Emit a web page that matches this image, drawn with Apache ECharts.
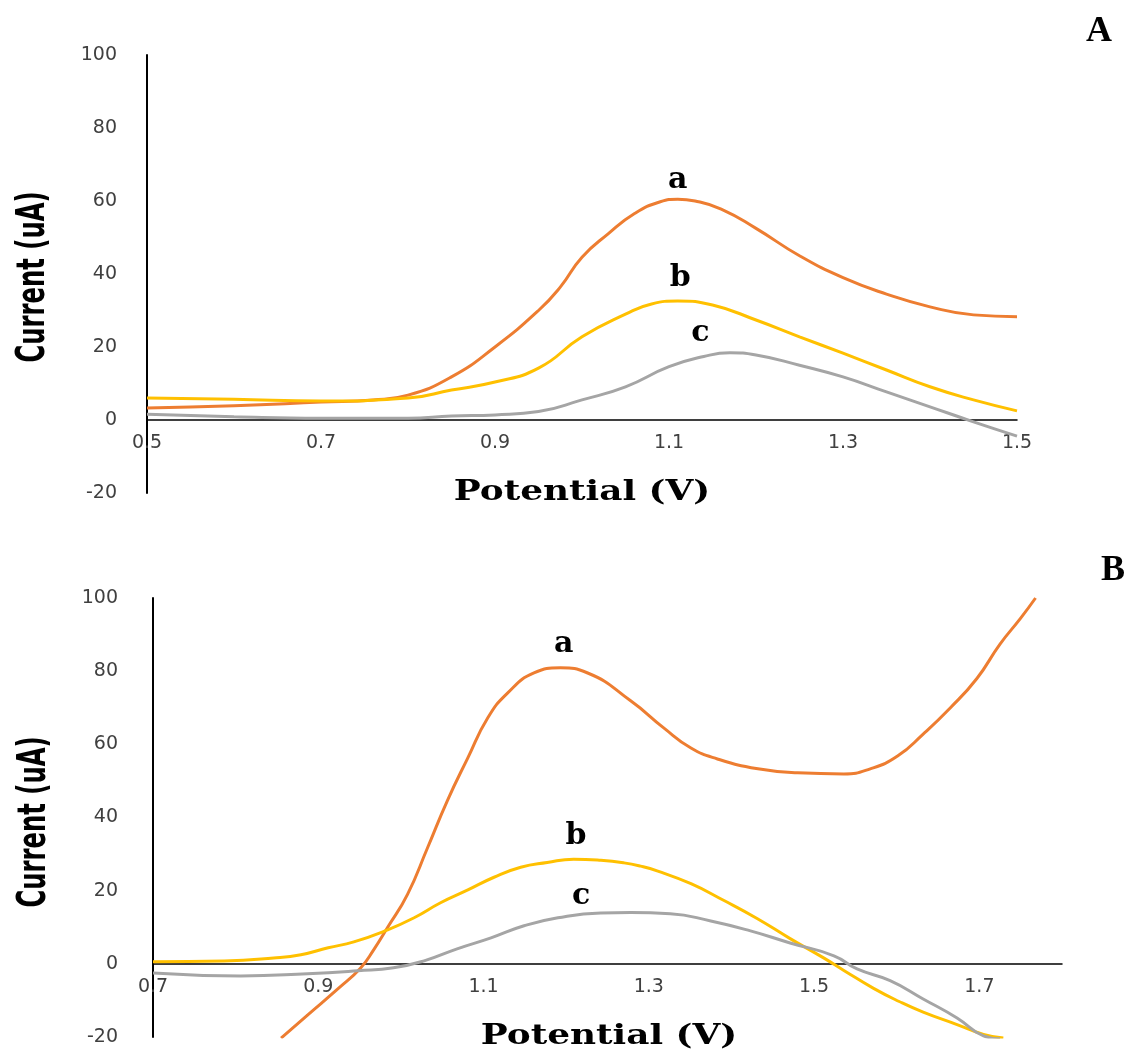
<!DOCTYPE html>
<html>
<head>
<meta charset="utf-8">
<script src="https://cdn.jsdelivr.net/npm/echarts@6/dist/echarts.min.js"></script>
<style>
  html, body { margin: 0; padding: 0; background: #fff; }
  #chart { width: 1137px; height: 1053px; }
</style>
</head>
<body>
<div id="chart"></div>
<script>
// panel A : [potential (V), current (uA)]
const curveAa = [[0.5,3.3],[0.6,3.9],[0.7,4.9],[0.76,5.5],[0.8,6.8],[0.85,11.8],[0.9,20],[0.95,30],[0.975,36.4],[1.0,44.6],[1.03,51],[1.06,56.5],[1.09,59.8],[1.11,60.5],[1.13,60],[1.16,57.8],[1.2,52.5],[1.25,45],[1.3,39],[1.35,34.5],[1.4,31],[1.45,28.8],[1.5,28.3]];
const curveAb = [[0.5,6.0],[0.6,5.7],[0.7,5.2],[0.8,6.0],[0.85,8.2],[0.9,10.4],[0.95,14.2],[1.0,22.8],[1.05,29],[1.08,31.8],[1.11,32.6],[1.15,31.5],[1.2,27.4],[1.25,22.8],[1.3,18.3],[1.35,13.7],[1.4,9.1],[1.45,5.5],[1.5,2.5]];
const curveAc = [[0.5,1.6],[0.6,0.9],[0.7,0.5],[0.8,0.5],[0.85,1.1],[0.9,1.4],[0.95,2.3],[1.0,5.5],[1.05,9.1],[1.1,14.6],[1.14,17.4],[1.17,18.4],[1.2,17.8],[1.25,15],[1.3,11.8],[1.35,7.7],[1.4,3.6],[1.45,-0.5],[1.5,-4.4]];

// panel B
const curveBa = [[0.855,-20.3],[0.887,-14],[0.924,-6.8],[0.951,-1.2],[0.967,3.8],[0.984,10],[1.008,19],[1.032,31.6],[1.056,44.5],[1.081,56.3],[1.105,67.2],[1.129,74],[1.161,79.5],[1.193,80.9],[1.226,79.5],[1.278,71.9],[1.318,64.5],[1.351,59],[1.383,56],[1.432,53.3],[1.48,52.2],[1.536,51.9],[1.568,53.3],[1.601,56.8],[1.632,62.8],[1.665,70],[1.697,78],[1.725,87.4],[1.75,94.5],[1.768,100]];
const curveBb = [[0.7,0.6],[0.786,0.8],[0.846,1.6],[0.879,2.5],[0.912,4.4],[0.943,6],[0.984,9.3],[1.016,12.6],[1.048,16.7],[1.081,20.2],[1.112,23.6],[1.145,26.4],[1.177,27.7],[1.209,28.6],[1.242,28.3],[1.27,27.6],[1.29,26.7],[1.31,25.4],[1.351,21.9],[1.391,17.3],[1.431,12.4],[1.471,6.9],[1.511,1.7],[1.536,-1.8],[1.572,-6.7],[1.603,-10.3],[1.632,-13.2],[1.673,-16.6],[1.705,-19.3],[1.729,-20.3]];
const curveBc = [[0.7,-2.5],[0.806,-3.3],[0.887,-2.7],[0.948,-1.9],[0.991,-1.1],[1.028,0.8],[1.068,4.1],[1.109,7.1],[1.149,10.4],[1.19,12.6],[1.242,13.9],[1.278,14],[1.326,13.7],[1.375,11.7],[1.423,9],[1.471,5.7],[1.524,2.2],[1.552,-1.4],[1.592,-4.6],[1.632,-9.6],[1.673,-14.8],[1.705,-19.7],[1.725,-20.5]];

// label spots [potential, current]
const tagsA = {a: [1.11, 65.8], b: [1.113, 38.9], c: [1.136, 23.8]};
const tagsB = {a: [1.197, 87.4], b: [1.212, 35], c: [1.218, 18.6]};

const colors = {a: '#ED7D31', b: '#FFC000', c: '#A5A5A5'};

const chart = echarts.init(document.getElementById('chart'), null, {renderer: 'canvas'});

const narrow = '"Liberation Sans Narrow", "DejaVu Sans Condensed", "Liberation Sans", sans-serif';
const tickFont = {fontFamily: 'DejaVu Sans', fontSize: 19, color: '#404040'};

function oddTenths(v) {
  return Math.round(v * 10) % 2 === 1 ? v.toFixed(1) : '';
}

function xAxisOpt(idx, min, max) {
  return {
    type: 'value', gridIndex: idx, min: min, max: max, interval: 0.1,
    offset: -73,
    axisLine: {onZero: false, lineStyle: {color: '#000', width: 1.5}},
    axisTick: {show: false}, splitLine: {show: false},
    axisLabel: Object.assign({interval: 0, margin: 14, formatter: oddTenths}, tickFont)
  };
}

function yAxisOpt(idx, margin) {
  return {
    type: 'value', gridIndex: idx, min: -20, max: 100, interval: 20,
    axisLine: {show: true, onZero: false, lineStyle: {color: '#000', width: 2}},
    axisTick: {show: false}, splitLine: {show: false},
    axisLabel: Object.assign({margin: margin}, tickFont)
  };
}

// axis titles are stretched in the picture, so draw them as scaled text
function yTitle(x, y) {
  return {type: 'text', x: x, y: y, rotation: Math.PI / 2, scaleY: 1.45,
    style: {text: 'Current (uA)', font: 'bold 27px ' + narrow, fill: '#000', align: 'center', verticalAlign: 'middle'}};
}
function xTitle(x, y) {
  return {type: 'text', x: x, y: y, scaleX: 1.28,
    style: {text: 'Potential (V)', font: 'bold 28px "DejaVu Serif"', fill: '#000', align: 'center', verticalAlign: 'middle'}};
}

function curve(key, idx, data, tag) {
  return {
    type: 'line', xAxisIndex: idx, yAxisIndex: idx, data: data,
    smooth: 0.5, showSymbol: false, symbol: 'none',
    lineStyle: {color: colors[key], width: 3},
    markPoint: {
      symbol: 'circle', symbolSize: 0, silent: true,
      label: {show: true, position: 'inside', formatter: key,
        fontFamily: 'DejaVu Serif', fontWeight: 'bold', fontSize: 30, color: '#000'},
      data: [{coord: tag}]
    }
  };
}

const option = {
  animation: false,
  backgroundColor: '#fff',
  grid: [
    {left: 147, top: 55, width: 870, height: 438, outerBoundsMode: 'none', containLabel: false},
    {left: 153, top: 598, width: 909, height: 439, outerBoundsMode: 'none', containLabel: false}
  ],
  xAxis: [xAxisOpt(0, 0.5, 1.5), xAxisOpt(1, 0.7, 1.8)],
  yAxis: [yAxisOpt(0, 30), yAxisOpt(1, 35)],
  graphic: [
    yTitle(34, 277), yTitle(35, 822),
    xTitle(582, 493), xTitle(609, 1037),
    {type: 'text', left: 1086, top: 14, style: {text: 'A', font: 'bold 36px "Liberation Serif"', fill: '#000'}},
    {type: 'text', left: 1101, top: 553, style: {text: 'B', font: 'bold 36px "Liberation Serif"', fill: '#000'}}
  ],
  series: [
    curve('a', 0, curveAa, tagsA.a),
    curve('b', 0, curveAb, tagsA.b),
    curve('c', 0, curveAc, tagsA.c),
    curve('a', 1, curveBa, tagsB.a),
    curve('b', 1, curveBb, tagsB.b),
    curve('c', 1, curveBc, tagsB.c)
  ]
};

chart.setOption(option);
</script>
</body>
</html>
